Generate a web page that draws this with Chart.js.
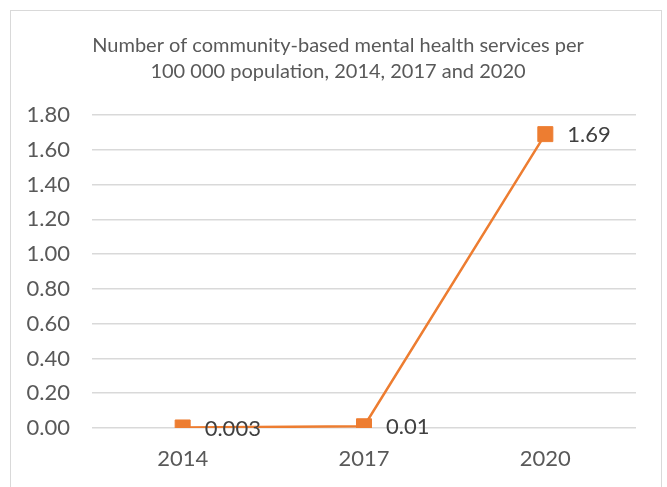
<!DOCTYPE html>
<html>
<head>
<meta charset="utf-8">
<script src="https://cdn.jsdelivr.net/npm/chart.js@4/dist/chart.umd.min.js"></script>
<style>
  html, body { margin: 0; padding: 0; background: #ffffff; }
  #wrap { position: relative; width: 667px; height: 487px; }
</style>
</head>
<body>
<div id="wrap"><canvas id="c" width="667" height="487"></canvas></div>
<script>
const titleLines = ['Number of community-based mental health services per', '100 000 population, 2014, 2017 and 2020'];
const categories = ['2014', '2017', '2020'];
const values = [0.003, 0.01, 1.69];
const valueLabels = ['0.003', '0.01', '1.69'];
const yMin = 0;
const yMax = 1.8;
const yStep = 0.2;

const FONT = 'Lato, "Liberation Sans", sans-serif';
const ORANGE = '#ED7D31';
const TEXT = '#595959';
const GRID = '#D9D9D9';

const frame = {
  id: 'frame',
  beforeDraw(chart) {
    const ctx = chart.ctx;
    ctx.save();
    ctx.fillStyle = '#ffffff';
    ctx.fillRect(0, 0, chart.width, chart.height);
    ctx.strokeStyle = GRID;
    ctx.lineWidth = 1;
    ctx.strokeRect(10.5, 10.5, 651, 500);
    ctx.restore();
  }
};

const valueLabelPlugin = {
  id: 'valueLabels',
  afterDatasetsDraw(chart) {
    const ctx = chart.ctx;
    const meta = chart.getDatasetMeta(0);
    ctx.save();
    ctx.font = '22px ' + FONT;
    ctx.fillStyle = '#404040';
    ctx.textAlign = 'left';
    ctx.textBaseline = 'middle';
    meta.data.forEach((pt, i) => {
      ctx.fillText(valueLabels[i], pt.x + 22, pt.y + 1);
    });
    ctx.restore();
  }
};

new Chart(document.getElementById('c'), {
  type: 'line',
  data: {
    labels: categories,
    datasets: [{
      data: values,
      borderColor: ORANGE,
      backgroundColor: ORANGE,
      borderWidth: 2.5,
      pointStyle: 'rect',
      pointRadius: 10.6,
      pointBorderWidth: 1,
      pointBorderColor: ORANGE,
      pointBackgroundColor: ORANGE,
      tension: 0,
      yAxisID: 'y'
    }]
  },
  options: {
    responsive: false,
    animation: false,
    events: [],
    layout: { padding: { left: 10, right: 1, top: 0, bottom: 0 } },
    plugins: {
      legend: { display: false },
      tooltip: { enabled: false },
      title: {
        display: true,
        text: titleLines,
        color: TEXT,
        font: { family: FONT, size: 20, weight: 'normal', lineHeight: 1.3 },
        padding: { top: 33, bottom: 30 }
      }
    },
    scales: {
      x: {
        offset: true,
        grid: { display: false, drawTicks: false },
        border: { display: false },
        ticks: { color: TEXT, font: { family: FONT, size: 22 }, padding: 18 },
        afterFit(s) { s.height = 59; }
      },
      y: {
        position: 'left',
        min: yMin,
        max: yMax,
        grid: { color: GRID, lineWidth: 1.5, drawTicks: false },
        border: { display: false },
        ticks: {
          stepSize: yStep,
          color: TEXT,
          font: { family: FONT, size: 22 },
          padding: 22,
          callback: (v) => Number(v).toFixed(2)
        },
        afterFit(s) { s.width = 82; }
      },
      y2: {
        position: 'right',
        display: true,
        grid: { display: false, drawTicks: false },
        border: { display: false },
        ticks: { display: false },
        afterFit(s) { s.width = 30; }
      }
    }
  },
  plugins: [frame, valueLabelPlugin]
});
</script>
</body>
</html>
